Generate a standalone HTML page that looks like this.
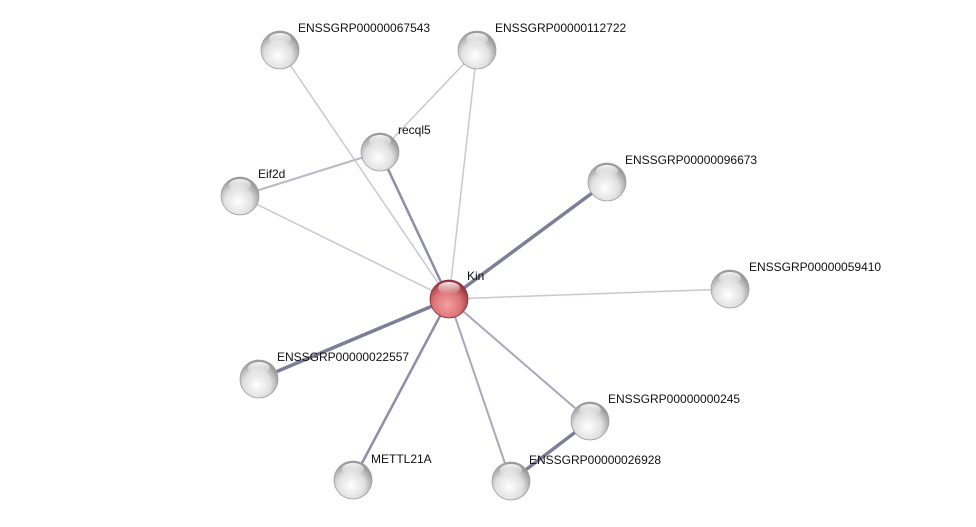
<!DOCTYPE html>
<html><head><meta charset="utf-8"><style>
html,body{margin:0;padding:0;background:#fff;}
svg{display:block;}
text{font-family:"Liberation Sans",sans-serif;font-size:12px;fill:#111;}
</style></head><body>
<svg width="976" height="527" viewBox="0 0 976 527">
<defs>
<radialGradient id="g" cx="45%" cy="65%" r="60%">
<stop offset="0" stop-color="#ffffff"/><stop offset="0.6" stop-color="#e0e0e0"/><stop offset="1" stop-color="#9a9a9a"/>
</radialGradient>
<radialGradient id="r" cx="45%" cy="65%" r="60%">
<stop offset="0" stop-color="#f4a0a4"/><stop offset="0.6" stop-color="#dc7478"/><stop offset="1" stop-color="#9a3a3e"/>
</radialGradient>
<linearGradient id="hl" x1="0" y1="0" x2="0" y2="1">
<stop offset="0" stop-color="#fff" stop-opacity="0.9"/><stop offset="1" stop-color="#fff" stop-opacity="0"/>
</linearGradient>
<g id="n"><circle r="19" fill="url(#g)" stroke="#a0a0a0" stroke-width="0.8"/><ellipse cx="0" cy="-11" rx="11" ry="6" fill="url(#hl)"/></g>
<g id="k"><circle r="19" fill="url(#r)" stroke="#8a3034" stroke-width="0.8"/><ellipse cx="0" cy="-11" rx="11" ry="6" fill="url(#hl)"/></g>
</defs>
<g stroke-linecap="round">
<line x1="449" y1="299" x2="280" y2="50" stroke="#c8c8d4" stroke-width="1.5"/>
<line x1="449" y1="299" x2="477" y2="50" stroke="#c8c8d4" stroke-width="1.5"/>
<line x1="380" y1="152" x2="477" y2="50" stroke="#c8c8d4" stroke-width="1.5"/>
<line x1="380" y1="152" x2="240" y2="196" stroke="#b8b8c8" stroke-width="2"/>
<line x1="449" y1="299" x2="240" y2="196" stroke="#c8c8d4" stroke-width="1.5"/>
<line x1="449" y1="299" x2="380" y2="152" stroke="#8e8ea6" stroke-width="2.5"/>
<line x1="449" y1="299" x2="607" y2="182" stroke="#7e7e98" stroke-width="3.5"/>
<line x1="449" y1="299" x2="730" y2="289" stroke="#c8c8d4" stroke-width="1.5"/>
<line x1="449" y1="299" x2="259" y2="379" stroke="#7e7e98" stroke-width="3.5"/>
<line x1="449" y1="299" x2="590" y2="421" stroke="#a8a8bc" stroke-width="2"/>
<line x1="449" y1="299" x2="353" y2="480" stroke="#8e8ea6" stroke-width="2.5"/>
<line x1="449" y1="299" x2="511" y2="481" stroke="#a8a8bc" stroke-width="2"/>
<line x1="590" y1="421" x2="511" y2="481" stroke="#7e7e98" stroke-width="3.5"/>
</g>
<use href="#n" x="280" y="50"/><use href="#n" x="477" y="50"/><use href="#n" x="380" y="152"/>
<use href="#n" x="240" y="196"/><use href="#n" x="607" y="182"/><use href="#n" x="730" y="289"/>
<use href="#n" x="259" y="379"/><use href="#n" x="590" y="421"/><use href="#n" x="353" y="480"/>
<use href="#n" x="511" y="481"/><use href="#k" x="449" y="299"/>
<text x="298" y="32">ENSSGRP00000067543</text>
<text x="495" y="32">ENSSGRP00000112722</text>
<text x="398" y="134">recql5</text>
<text x="258" y="178">Eif2d</text>
<text x="625" y="164">ENSSGRP00000096673</text>
<text x="467" y="280">Kin</text>
<text x="749" y="271">ENSSGRP00000059410</text>
<text x="277" y="361">ENSSGRP00000022557</text>
<text x="608" y="403">ENSSGRP00000000245</text>
<text x="371" y="463">METTL21A</text>
<text x="529" y="464">ENSSGRP00000026928</text>
</svg>
</body></html>
